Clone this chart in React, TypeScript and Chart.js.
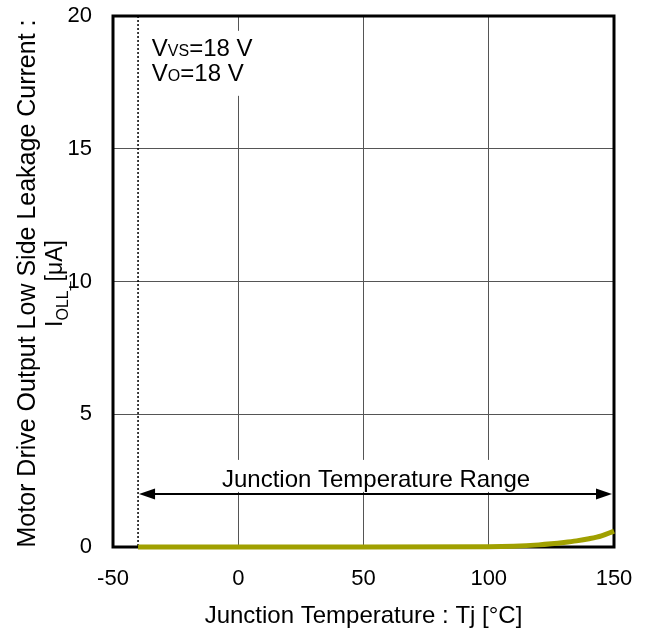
import React, { useEffect, useRef } from "react";
import { Chart, registerables } from "chart.js";

Chart.register(...registerables);

const temperatures = [-40, 0, 50, 100, 110, 120, 125, 130, 135, 140, 145, 150];
const leakage = [0, 0, 0, 0.01, 0.03, 0.08, 0.12, 0.17, 0.23, 0.31, 0.42, 0.6];

const xTitle = "Junction Temperature : Tj [°C]";
const yTitleLine1 = "Motor Drive Output Low Side Leakage Current :";
const yTitleMain = "I";
const yTitleSub = "OLL_";
const yTitleUnit = "[μA]";
const rangeLabel = "Junction Temperature Range";
const rangeStart = -40;
const rangeEnd = 150;
const rangeLevel = 2;
const condLines = [
  { main: "V", sub: "VS", rest: "=18 V" },
  { main: "V", sub: "O", rest: "=18 V" },
];
const condAnchor = { x: -34.5, y: 18.5 };

const FONT = "'Liberation Sans', Arial, sans-serif";

const overlay = {
  id: "overlay",
  beforeDatasetsDraw(chart: any) {
    const { ctx, chartArea: a, scales } = chart;
    const xs = scales.x;
    const ys = scales.y;
    ctx.save();

    // condition text
    const cx = xs.getPixelForValue(condAnchor.x);
    const cy = ys.getPixelForValue(condAnchor.y);
    const lineGap = 25;
    let maxW = 0;
    const measure = (l: any) => {
      ctx.font = `24px ${FONT}`;
      const w1 = ctx.measureText(l.main).width;
      const w3 = ctx.measureText(l.rest).width;
      ctx.font = `16px ${FONT}`;
      const w2 = ctx.measureText(l.sub).width;
      return w1 + w2 + w3;
    };
    condLines.forEach((l) => (maxW = Math.max(maxW, measure(l))));
    ctx.fillStyle = "#fff";
    ctx.fillRect(cx - 10, cy - 25, maxW + 20, lineGap + 40);
    ctx.fillStyle = "#000";
    ctx.textBaseline = "alphabetic";
    ctx.textAlign = "left";
    condLines.forEach((l, i) => {
      let px = cx;
      const py = cy + i * lineGap;
      ctx.font = `24px ${FONT}`;
      ctx.fillText(l.main, px, py);
      px += ctx.measureText(l.main).width;
      ctx.font = `16px ${FONT}`;
      ctx.fillText(l.sub, px, py);
      px += ctx.measureText(l.sub).width;
      ctx.font = `24px ${FONT}`;
      ctx.fillText(l.rest, px, py);
    });

    // range label and box
    const x0 = xs.getPixelForValue(rangeStart);
    const x1 = xs.getPixelForValue(rangeEnd);
    const ay = ys.getPixelForValue(rangeLevel);
    ctx.font = `24px ${FONT}`;
    const tw = ctx.measureText(rangeLabel).width;
    const mid = (x0 + x1) / 2;
    ctx.fillStyle = "#fff";
    ctx.fillRect(mid - tw / 2 - 8, ay - 34, tw + 16, 32);
    ctx.fillStyle = "#000";
    ctx.textAlign = "center";
    ctx.fillText(rangeLabel, mid, ay - 7);

    // dotted line
    ctx.strokeStyle = "#000";
    ctx.lineWidth = 1.5;
    ctx.setLineDash([2, 2]);
    ctx.beginPath();
    ctx.moveTo(x0, a.top);
    ctx.lineTo(x0, a.bottom);
    ctx.stroke();
    ctx.setLineDash([]);

    // arrow
    const head = 16;
    const hw = 5.5;
    ctx.lineWidth = 2;
    ctx.beginPath();
    ctx.moveTo(x0 + head - 2, ay);
    ctx.lineTo(x1 - head + 2, ay);
    ctx.stroke();
    ctx.fillStyle = "#000";
    ctx.beginPath();
    ctx.moveTo(x0 + 1, ay);
    ctx.lineTo(x0 + 1 + head, ay - hw);
    ctx.lineTo(x0 + 1 + head, ay + hw);
    ctx.closePath();
    ctx.fill();
    ctx.beginPath();
    ctx.moveTo(x1 - 2, ay);
    ctx.lineTo(x1 - 2 - head, ay - hw);
    ctx.lineTo(x1 - 2 - head, ay + hw);
    ctx.closePath();
    ctx.fill();

    // frame
    ctx.lineWidth = 3;
    ctx.strokeStyle = "#000";
    ctx.strokeRect(a.left, a.top, a.right - a.left, a.bottom - a.top);
    ctx.restore();
  },
  afterDraw(chart: any) {
    const { ctx, chartArea: a } = chart;
    ctx.save();
    ctx.fillStyle = "#000";
    // x title
    ctx.font = `24px ${FONT}`;
    ctx.textAlign = "center";
    ctx.textBaseline = "alphabetic";
    ctx.fillText(xTitle, (a.left + a.right) / 2, 623);

    // y title
    const cy = (a.top + a.bottom) / 2 + 2;
    ctx.translate(35, cy);
    ctx.rotate(-Math.PI / 2);
    ctx.font = `25px ${FONT}`;
    ctx.fillText(yTitleLine1, 0, 0);

    ctx.font = `23px ${FONT}`;
    const w1 = ctx.measureText(yTitleMain).width;
    const w3 = ctx.measureText(yTitleUnit).width;
    ctx.font = `16px ${FONT}`;
    const w2 = ctx.measureText(yTitleSub).width;
    const total = w1 + w2 + w3;
    let px = -total / 2;
    ctx.textAlign = "left";
    ctx.font = `23px ${FONT}`;
    ctx.fillText(yTitleMain, px, 27);
    px += w1;
    ctx.font = `16px ${FONT}`;
    ctx.fillText(yTitleSub, px, 33);
    px += w2;
    ctx.font = `23px ${FONT}`;
    ctx.fillText(yTitleUnit, px, 27);
    ctx.restore();
  },
};

export default function App() {
  const ref = useRef<HTMLCanvasElement>(null);
  useEffect(() => {
    if (!ref.current) return;
    const chart = new Chart(ref.current, {
      type: "line",
      data: {
        datasets: [
          {
            data: temperatures.map((t, i) => ({ x: t, y: leakage[i] })),
            borderColor: "#a0a000",
            borderWidth: 5,
            pointRadius: 0,
            cubicInterpolationMode: "monotone",
            clip: false as any,
          },
        ],
      },
      options: {
        animation: false,
        responsive: false,
        maintainAspectRatio: false,
        layout: { padding: { top: 16, right: 33, left: 0, bottom: 0 } },
        plugins: { legend: { display: false }, tooltip: { enabled: false } },
        scales: {
          x: {
            type: "linear",
            min: -50,
            max: 150,
            border: { display: false },
            grid: { color: "#555", lineWidth: 1, drawTicks: false },
            ticks: {
              stepSize: 50,
              color: "#000",
              padding: 19,
              font: { family: FONT, size: 22 },
              maxRotation: 0,
            },
            afterFit: (s: any) => {
              s.height = 81;
              s.paddingLeft = 0;
              s.paddingRight = 0;
            },
          },
          y: {
            min: 0,
            max: 20,
            border: { display: false },
            grid: { color: "#555", lineWidth: 1, drawTicks: false },
            ticks: {
              stepSize: 5,
              color: "#000",
              padding: 21,
              font: { family: FONT, size: 22 },
            },
            afterFit: (s: any) => {
              s.width = 113;
              s.paddingTop = 0;
              s.paddingBottom = 0;
            },
          },
        },
      },
      plugins: [overlay],
    });
    return () => chart.destroy();
  }, []);
  return (
    <div style={{ position: "absolute", left: 0, top: 0, width: 647, height: 628, background: "#fff" }}>
      <canvas ref={ref} width={647} height={628} style={{ width: 647, height: 628 }} />
    </div>
  );
}
